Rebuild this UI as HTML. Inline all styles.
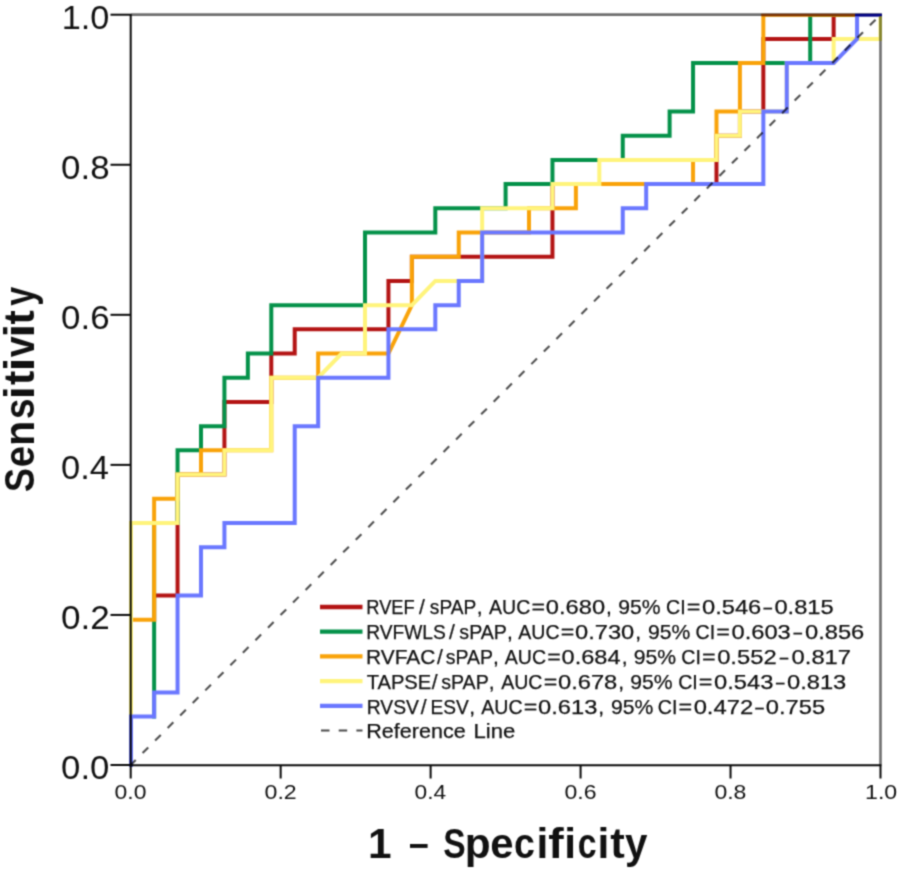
<!DOCTYPE html>
<html><head><meta charset="utf-8"><style>
html,body{margin:0;padding:0;background:#fff;}
svg{display:block;}
#w{width:902px;height:873px;}
text{font-family:"Liberation Sans",sans-serif;fill:#111;stroke:#111;stroke-width:0.25;}
</style></head><body><div id="w">
<svg width="902" height="873" viewBox="0 0 902 873">
<defs><filter id="bl" x="0" y="0" width="902" height="873" filterUnits="userSpaceOnUse" color-interpolation-filters="sRGB"><feConvolveMatrix order="3" kernelMatrix="1 3 1 3 9 3 1 3 1" edgeMode="duplicate"/></filter><clipPath id="pc"><rect x="0" y="14" width="881.6" height="860"/></clipPath></defs>
<g filter="url(#bl)">
<rect width="902" height="873" fill="#fff"/>
<g fill="none" stroke-width="4.0" stroke-linejoin="miter" stroke-linecap="square" clip-path="url(#pc)">
<path d="M154.13,619.78 L154.13,595.58 L177.56,595.58 L177.56,474.56 L224.42,474.56 L224.42,401.95 L271.29,401.95 L271.29,353.55 L294.72,353.55 L294.72,329.34 L388.44,329.34 L388.44,280.94 L411.87,280.94 L411.87,256.73 L552.46,256.73 L552.46,184.12 L716.48,184.12 L716.48,135.72 L739.91,135.72 L739.91,111.51 L763.34,111.51 L763.34,38.90 L833.64,38.90 L833.64,14.70 L880.50,14.70" stroke="#B41515"/>
<path d="M154.13,716.59 L154.13,522.97 L177.56,522.97 L177.56,450.36 L200.99,450.36 L200.99,426.15 L224.42,426.15 L224.42,377.75 L247.86,377.75 L247.86,353.55 L271.29,353.55 L271.29,305.14 L365.01,305.14 L365.01,232.53 L435.31,232.53 L435.31,208.33 L505.60,208.33 L505.60,184.12 L552.46,184.12 L552.46,159.92 L622.76,159.92 L622.76,135.72 L669.62,135.72 L669.62,111.51 L693.05,111.51 L693.05,63.11 L810.21,63.11 L810.21,14.70 L880.50,14.70" stroke="#05924A"/>
<path d="M131.00,619.78 L154.13,619.78 L154.13,498.76 L177.56,498.76 L177.56,474.56 L200.99,474.56 L200.99,450.36 L271.29,450.36 L271.29,377.75 L318.15,377.75 L318.15,353.55 L388.44,353.55 L411.87,305.14 L411.87,256.73 L458.74,256.73 L458.74,232.53 L529.03,232.53 L529.03,208.33 L575.89,208.33 L575.89,184.12 L693.05,184.12 L693.05,159.92 L716.48,159.92 L716.48,111.51 L739.91,111.51 L739.91,63.11 L763.34,63.11 L763.34,14.70 L880.50,14.70" stroke="#F9A30A"/>
<path d="M131.00,765.00 L131.00,522.97 L177.56,522.97 L177.56,474.56 L224.42,474.56 L224.42,450.36 L271.29,450.36 L271.29,377.75 L318.15,377.75 L341.58,353.55 L365.01,353.55 L365.01,305.14 L411.87,305.14 L435.31,280.94 L482.17,280.94 L482.17,208.33 L552.46,208.33 L552.46,184.12 L599.33,184.12 L599.33,159.92 L716.48,159.92 L716.48,135.72 L739.91,135.72 L739.91,111.51 L786.77,111.51 L786.77,63.11 L833.64,63.11 L833.64,38.90 L880.50,38.90 L880.50,14.70" stroke="#FFF47C"/>
<path d="M131.00,765.00 L131.00,716.59 L154.13,716.59 L154.13,692.39 L177.56,692.39 L177.56,595.58 L200.99,595.58 L200.99,547.17 L224.42,547.17 L224.42,522.97 L294.72,522.97 L294.72,426.15 L318.15,426.15 L318.15,377.75 L388.44,377.75 L388.44,329.34 L435.31,329.34 L435.31,305.14 L458.74,305.14 L458.74,280.94 L482.17,280.94 L482.17,232.53 L622.76,232.53 L622.76,208.33 L646.19,208.33 L646.19,184.12 L763.34,184.12 L763.34,111.51 L786.77,111.51 L786.77,63.11 L833.64,63.11 L857.07,38.90 L857.07,14.70 L880.50,14.70" stroke="#6B78FF"/>
</g>
<line x1="130.7" y1="765.0" x2="880.5" y2="14.7" stroke="#505050" stroke-width="2.1" stroke-dasharray="8 9.74" stroke-dashoffset="0.94" style="mix-blend-mode:multiply"/>
<g stroke="#6e6e6e" stroke-width="2.6" style="mix-blend-mode:multiply">
<line x1="130.7" y1="14.6" x2="881.8" y2="14.6"/>
<line x1="880.5" y1="14.7" x2="880.5" y2="765.0"/>
</g>
<g stroke-width="2.6" fill="none">
<line x1="761.34" y1="15.0" x2="855.07" y2="15.0" stroke="#7A3000"/>
<line x1="855.07" y1="15.0" x2="882.0" y2="15.0" stroke="#000080"/>
<line x1="880.6" y1="16.3" x2="880.6" y2="40.70" stroke="#888830"/>
</g>
<g stroke="#0a0a0a" stroke-width="2.0" style="mix-blend-mode:multiply">
<line x1="130.7" y1="14.1" x2="130.7" y2="765.0"/>
<line x1="130.7" y1="765.3" x2="881.4" y2="765.3"/>
<line x1="110.5" y1="765.00" x2="130.7" y2="765.00"/>
<line x1="130.70" y1="765.0" x2="130.70" y2="778.5"/>
<line x1="110.5" y1="614.94" x2="130.7" y2="614.94"/>
<line x1="280.66" y1="765.0" x2="280.66" y2="778.5"/>
<line x1="110.5" y1="464.88" x2="130.7" y2="464.88"/>
<line x1="430.62" y1="765.0" x2="430.62" y2="778.5"/>
<line x1="110.5" y1="314.82" x2="130.7" y2="314.82"/>
<line x1="580.58" y1="765.0" x2="580.58" y2="778.5"/>
<line x1="110.5" y1="164.76" x2="130.7" y2="164.76"/>
<line x1="730.54" y1="765.0" x2="730.54" y2="778.5"/>
<line x1="110.5" y1="14.70" x2="130.7" y2="14.70"/>
<line x1="880.50" y1="765.0" x2="880.50" y2="778.5"/>
</g>
<text style="stroke-width:0" x="61.11" y="778.90" font-size="32.8" textLength="48.30" lengthAdjust="spacingAndGlyphs">0.0</text>
<text style="stroke-width:0" x="61.10" y="628.84" font-size="32.8" textLength="48.76" lengthAdjust="spacingAndGlyphs">0.2</text>
<text style="stroke-width:0" x="61.12" y="478.78" font-size="32.8" textLength="47.93" lengthAdjust="spacingAndGlyphs">0.4</text>
<text style="stroke-width:0" x="61.10" y="328.72" font-size="32.8" textLength="48.48" lengthAdjust="spacingAndGlyphs">0.6</text>
<text style="stroke-width:0" x="61.10" y="178.66" font-size="32.8" textLength="48.48" lengthAdjust="spacingAndGlyphs">0.8</text>
<text style="stroke-width:0" x="61.73" y="28.60" font-size="32.8" textLength="47.66" lengthAdjust="spacingAndGlyphs">1.0</text>
<text style="stroke-width:0" x="114.58" y="799.10" font-size="20.8" textLength="31.88" lengthAdjust="spacingAndGlyphs">0.0</text>
<text style="stroke-width:0" x="264.53" y="799.10" font-size="20.8" textLength="32.19" lengthAdjust="spacingAndGlyphs">0.2</text>
<text style="stroke-width:0" x="414.51" y="799.10" font-size="20.8" textLength="31.64" lengthAdjust="spacingAndGlyphs">0.4</text>
<text style="stroke-width:0" x="564.46" y="799.10" font-size="20.8" textLength="32.00" lengthAdjust="spacingAndGlyphs">0.6</text>
<text style="stroke-width:0" x="714.42" y="799.10" font-size="20.8" textLength="32.00" lengthAdjust="spacingAndGlyphs">0.8</text>
<text style="stroke-width:0" x="865.06" y="799.10" font-size="20.8" textLength="32.21" lengthAdjust="spacingAndGlyphs">1.0</text>
<text x="367.95" y="857.90" font-size="42.5" font-weight="bold" style="stroke-width:0" textLength="23.56" lengthAdjust="spacingAndGlyphs">1</text>
<rect x="410.0" y="844.0" width="17.6" height="3.9" fill="#111"/>
<text x="443.29" y="857.90" font-size="42.5" font-weight="bold" style="stroke-width:0" textLength="22.44" lengthAdjust="spacingAndGlyphs">S</text>
<text x="464.65" y="857.90" font-size="42.5" font-weight="bold" style="stroke-width:0" textLength="25.89" lengthAdjust="spacingAndGlyphs">p</text>
<text x="490.13" y="857.90" font-size="42.5" font-weight="bold" style="stroke-width:0" textLength="23.28" lengthAdjust="spacingAndGlyphs">e</text>
<text x="514.10" y="857.90" font-size="42.5" font-weight="bold" style="stroke-width:0" textLength="20.88" lengthAdjust="spacingAndGlyphs">c</text>
<text style="stroke-width:0" x="536.55" y="857.90" font-size="42.5" font-weight="bold">i</text>
<text x="548.29" y="857.90" font-size="42.5" font-weight="bold" style="stroke-width:0" textLength="15.42" lengthAdjust="spacingAndGlyphs">f</text>
<text style="stroke-width:0" x="564.25" y="857.90" font-size="42.5" font-weight="bold">i</text>
<text x="577.65" y="857.90" font-size="42.5" font-weight="bold" style="stroke-width:0" textLength="18.82" lengthAdjust="spacingAndGlyphs">c</text>
<text style="stroke-width:0" x="597.55" y="857.90" font-size="42.5" font-weight="bold">i</text>
<text x="610.16" y="857.90" font-size="42.5" font-weight="bold" style="stroke-width:0" textLength="14.51" lengthAdjust="spacingAndGlyphs">t</text>
<text x="625.10" y="857.90" font-size="42.5" font-weight="bold" style="stroke-width:0" textLength="22.45" lengthAdjust="spacingAndGlyphs">y</text>
<text transform="translate(34.3,491) rotate(-90)" x="-1.08" y="0" font-size="42.5" font-weight="bold" style="stroke-width:0" textLength="24.00" lengthAdjust="spacingAndGlyphs">S</text>
<text transform="translate(34.3,491) rotate(-90)" x="23.67" y="0" font-size="42.5" font-weight="bold" style="stroke-width:0" textLength="21.21" lengthAdjust="spacingAndGlyphs">e</text>
<text transform="translate(34.3,491) rotate(-90)" x="44.91" y="0" font-size="42.5" font-weight="bold" style="stroke-width:0" textLength="25.32" lengthAdjust="spacingAndGlyphs">n</text>
<text transform="translate(34.3,491) rotate(-90)" x="72.01" y="0" font-size="42.5" font-weight="bold" style="stroke-width:0" textLength="20.51" lengthAdjust="spacingAndGlyphs">s</text>
<text transform="translate(34.3,491) rotate(-90)" x="91.74" y="0" font-size="42.5" font-weight="bold" style="stroke-width:0" textLength="12.93" lengthAdjust="spacingAndGlyphs">i</text>
<text transform="translate(34.3,491) rotate(-90)" x="105.97" y="0" font-size="42.5" font-weight="bold" style="stroke-width:0" textLength="14.19" lengthAdjust="spacingAndGlyphs">t</text>
<text transform="translate(34.3,491) rotate(-90)" x="119.49" y="0" font-size="42.5" font-weight="bold" style="stroke-width:0" textLength="13.94" lengthAdjust="spacingAndGlyphs">i</text>
<text transform="translate(34.3,491) rotate(-90)" x="133.81" y="0" font-size="42.5" font-weight="bold" style="stroke-width:0" textLength="20.93" lengthAdjust="spacingAndGlyphs">v</text>
<text transform="translate(34.3,491) rotate(-90)" x="153.19" y="0" font-size="42.5" font-weight="bold" style="stroke-width:0" textLength="13.94" lengthAdjust="spacingAndGlyphs">i</text>
<text transform="translate(34.3,491) rotate(-90)" x="166.47" y="0" font-size="42.5" font-weight="bold" style="stroke-width:0" textLength="14.19" lengthAdjust="spacingAndGlyphs">t</text>
<text transform="translate(34.3,491) rotate(-90)" x="185.34" y="0" font-size="42.5" font-weight="bold" style="stroke-width:0" textLength="18.97" lengthAdjust="spacingAndGlyphs">y</text>
<g>
<line x1="320" y1="607.00" x2="362.5" y2="607.00" stroke="#B41515" stroke-width="4.3"/>
<text x="366.29" y="614.10" font-size="21" textLength="48.47" lengthAdjust="spacingAndGlyphs">RVEF</text>
<text x="418.94" y="614.10" font-size="21">/</text>
<text x="429.87" y="614.10" font-size="21" textLength="46.42" lengthAdjust="spacingAndGlyphs">sPAP</text>
<text x="476.64" y="614.10" font-size="21">,</text>
<text x="489.05" y="614.10" font-size="21" textLength="41.26" lengthAdjust="spacingAndGlyphs">AUC</text>
<text x="531.60" y="614.10" font-size="21" textLength="13.54" lengthAdjust="spacingAndGlyphs">=</text>
<text x="545.85" y="614.10" font-size="21" textLength="59.24" lengthAdjust="spacingAndGlyphs">0.680</text>
<text x="606.09" y="614.10" font-size="21">,</text>
<text x="618.20" y="614.10" font-size="21" textLength="42.32" lengthAdjust="spacingAndGlyphs">95%</text>
<text x="666.12" y="614.10" font-size="21" textLength="19.59" lengthAdjust="spacingAndGlyphs">CI</text>
<text x="686.79" y="614.10" font-size="21" textLength="13.66" lengthAdjust="spacingAndGlyphs">=</text>
<text x="701.95" y="614.10" font-size="21" textLength="59.36" lengthAdjust="spacingAndGlyphs">0.546</text>
<text x="763.60" y="614.10" font-size="21" textLength="8.52" lengthAdjust="spacingAndGlyphs">–</text>
<text x="774.45" y="614.10" font-size="21" textLength="59.30" lengthAdjust="spacingAndGlyphs">0.815</text>
<line x1="320" y1="631.70" x2="362.5" y2="631.70" stroke="#05924A" stroke-width="4.3"/>
<text x="366.22" y="639.00" font-size="21" textLength="79.53" lengthAdjust="spacingAndGlyphs">RVFWLS</text>
<text x="448.99" y="639.00" font-size="21">/</text>
<text x="459.36" y="639.00" font-size="21" textLength="47.55" lengthAdjust="spacingAndGlyphs">sPAP</text>
<text x="506.89" y="639.00" font-size="21">,</text>
<text x="518.25" y="639.00" font-size="21" textLength="41.26" lengthAdjust="spacingAndGlyphs">AUC</text>
<text x="560.80" y="639.00" font-size="21" textLength="13.54" lengthAdjust="spacingAndGlyphs">=</text>
<text x="575.05" y="639.00" font-size="21" textLength="59.24" lengthAdjust="spacingAndGlyphs">0.730</text>
<text x="635.29" y="639.00" font-size="21">,</text>
<text x="648.00" y="639.00" font-size="21" textLength="42.32" lengthAdjust="spacingAndGlyphs">95%</text>
<text x="695.62" y="639.00" font-size="21" textLength="19.59" lengthAdjust="spacingAndGlyphs">CI</text>
<text x="716.29" y="639.00" font-size="21" textLength="13.66" lengthAdjust="spacingAndGlyphs">=</text>
<text x="731.45" y="639.00" font-size="21" textLength="59.36" lengthAdjust="spacingAndGlyphs">0.603</text>
<text x="793.60" y="639.00" font-size="21" textLength="8.52" lengthAdjust="spacingAndGlyphs">–</text>
<text x="804.95" y="639.00" font-size="21" textLength="59.36" lengthAdjust="spacingAndGlyphs">0.856</text>
<line x1="320" y1="656.40" x2="362.5" y2="656.40" stroke="#F9A30A" stroke-width="4.3"/>
<text x="366.08" y="663.90" font-size="21" textLength="69.28" lengthAdjust="spacingAndGlyphs">RVFAC</text>
<text x="437.04" y="663.90" font-size="21">/</text>
<text x="445.87" y="663.90" font-size="21" textLength="47.14" lengthAdjust="spacingAndGlyphs">sPAP</text>
<text x="492.94" y="663.90" font-size="21">,</text>
<text x="504.75" y="663.90" font-size="21" textLength="41.26" lengthAdjust="spacingAndGlyphs">AUC</text>
<text x="547.30" y="663.90" font-size="21" textLength="13.54" lengthAdjust="spacingAndGlyphs">=</text>
<text x="561.56" y="663.90" font-size="21" textLength="58.99" lengthAdjust="spacingAndGlyphs">0.684</text>
<text x="621.79" y="663.90" font-size="21">,</text>
<text x="633.80" y="663.90" font-size="21" textLength="42.32" lengthAdjust="spacingAndGlyphs">95%</text>
<text x="681.32" y="663.90" font-size="21" textLength="19.59" lengthAdjust="spacingAndGlyphs">CI</text>
<text x="701.99" y="663.90" font-size="21" textLength="13.66" lengthAdjust="spacingAndGlyphs">=</text>
<text x="717.15" y="663.90" font-size="21" textLength="59.54" lengthAdjust="spacingAndGlyphs">0.552</text>
<text x="779.75" y="663.90" font-size="21" textLength="8.52" lengthAdjust="spacingAndGlyphs">–</text>
<text x="791.55" y="663.90" font-size="21" textLength="59.54" lengthAdjust="spacingAndGlyphs">0.817</text>
<line x1="320" y1="681.10" x2="362.5" y2="681.10" stroke="#FFF47C" stroke-width="4.3"/>
<text x="366.65" y="688.80" font-size="21" textLength="64.60" lengthAdjust="spacingAndGlyphs">TAPSE</text>
<text x="431.74" y="688.80" font-size="21">/</text>
<text x="441.16" y="688.80" font-size="21" textLength="47.55" lengthAdjust="spacingAndGlyphs">sPAP</text>
<text x="488.69" y="688.80" font-size="21">,</text>
<text x="501.15" y="688.80" font-size="21" textLength="41.26" lengthAdjust="spacingAndGlyphs">AUC</text>
<text x="543.70" y="688.80" font-size="21" textLength="13.54" lengthAdjust="spacingAndGlyphs">=</text>
<text x="557.95" y="688.80" font-size="21" textLength="59.36" lengthAdjust="spacingAndGlyphs">0.678</text>
<text x="618.19" y="688.80" font-size="21">,</text>
<text x="630.30" y="688.80" font-size="21" textLength="42.32" lengthAdjust="spacingAndGlyphs">95%</text>
<text x="678.22" y="688.80" font-size="21" textLength="19.59" lengthAdjust="spacingAndGlyphs">CI</text>
<text x="698.89" y="688.80" font-size="21" textLength="13.66" lengthAdjust="spacingAndGlyphs">=</text>
<text x="714.05" y="688.80" font-size="21" textLength="59.36" lengthAdjust="spacingAndGlyphs">0.543</text>
<text x="775.90" y="688.80" font-size="21" textLength="8.52" lengthAdjust="spacingAndGlyphs">–</text>
<text x="786.95" y="688.80" font-size="21" textLength="59.36" lengthAdjust="spacingAndGlyphs">0.813</text>
<line x1="320" y1="705.80" x2="362.5" y2="705.80" stroke="#6B78FF" stroke-width="4.3"/>
<text x="366.71" y="713.70" font-size="21" textLength="52.29" lengthAdjust="spacingAndGlyphs">RVSV</text>
<text x="420.64" y="713.70" font-size="21">/</text>
<text x="430.62" y="713.70" font-size="21" textLength="38.24" lengthAdjust="spacingAndGlyphs">ESV</text>
<text x="469.19" y="713.70" font-size="21">,</text>
<text x="481.25" y="713.70" font-size="21" textLength="41.26" lengthAdjust="spacingAndGlyphs">AUC</text>
<text x="523.80" y="713.70" font-size="21" textLength="13.54" lengthAdjust="spacingAndGlyphs">=</text>
<text x="538.05" y="713.70" font-size="21" textLength="59.36" lengthAdjust="spacingAndGlyphs">0.613</text>
<text x="598.29" y="713.70" font-size="21">,</text>
<text x="611.10" y="713.70" font-size="21" textLength="42.32" lengthAdjust="spacingAndGlyphs">95%</text>
<text x="657.82" y="713.70" font-size="21" textLength="19.59" lengthAdjust="spacingAndGlyphs">CI</text>
<text x="678.49" y="713.70" font-size="21" textLength="13.66" lengthAdjust="spacingAndGlyphs">=</text>
<text x="693.65" y="713.70" font-size="21" textLength="59.54" lengthAdjust="spacingAndGlyphs">0.472</text>
<text x="755.15" y="713.70" font-size="21" textLength="8.52" lengthAdjust="spacingAndGlyphs">–</text>
<text x="765.85" y="713.70" font-size="21" textLength="59.30" lengthAdjust="spacingAndGlyphs">0.755</text>
<line x1="320" y1="730.50" x2="362.5" y2="730.50" stroke="#4a4a4a" stroke-width="2" stroke-dasharray="8.5 9.2" stroke-dashoffset="-1"/>
<text x="366.22" y="737.60" font-size="21" textLength="99.42" lengthAdjust="spacingAndGlyphs">Reference</text>
<text x="473.48" y="737.60" font-size="21" textLength="41.78" lengthAdjust="spacingAndGlyphs">Line</text>
</g>
</g>
</svg></div>
</body></html>
